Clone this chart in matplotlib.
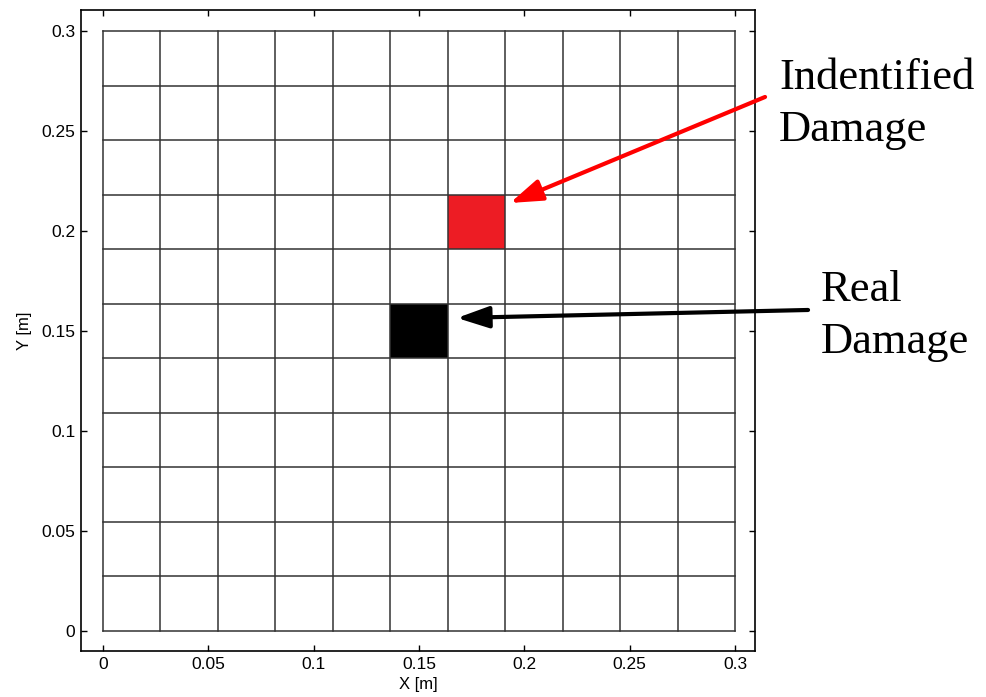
import matplotlib.pyplot as plt
from matplotlib.patches import Rectangle
import numpy as np

# plate and mesh
plate_size = 0.3
n_elements = 11
# damaged element indices (column, row), counted from bottom-left
real_damage = [(5, 5)]
identified_damage = [(6, 7)]

ticks = [0, 0.05, 0.1, 0.15, 0.2, 0.25, 0.3]
tick_labels = ['0', '0.05', '0.1', '0.15', '0.2', '0.25', '0.3']

fig = plt.figure(figsize=(9.87, 6.97), dpi=100)
ax = fig.add_axes([0.0821, 0.066, 0.683, 0.9197])

h = plate_size / n_elements

#fill damaged elements
for (i, j) in identified_damage:
    ax.add_patch(Rectangle((i * h, j * h), h, h, facecolor='#ED1C24', edgecolor='none', zorder=1))
for (i, j) in real_damage:
    ax.add_patch(Rectangle((i * h, j * h), h, h, facecolor='black', edgecolor='none', zorder=1))

#draw mesh lines
edges = np.linspace(0, plate_size, n_elements + 1)
for e in edges:
    ax.plot([e, e], [0, plate_size], color='#333333', lw=1.1, zorder=2)
    ax.plot([0, plate_size], [e, e], color='#333333', lw=1.1, zorder=2)

ax.set_xlim(-0.0104, 0.3095)
ax.set_ylim(-0.01, 0.3105)
ax.set_xticks(ticks)
ax.set_xticklabels(tick_labels)
ax.set_yticks(ticks)
ax.set_yticklabels(tick_labels)
ax.tick_params(direction='in', length=4, width=1, top=True, right=True,
               labelsize=12.5, pad=4)
for lab in ax.get_xticklabels() + ax.get_yticklabels():
    lab.set_family('Liberation Sans')
for s in ax.spines.values():
    s.set_linewidth(1.2)

ax.set_xlabel('X [m]', family='Liberation Sans', fontsize=12, labelpad=4)
ax.set_ylabel('Y [m]', family='Liberation Sans', fontsize=12, labelpad=7)

#arrows and labels
arrow_style = '-|>,head_length=0.65,head_width=0.22'
ax.annotate('', xy=(0.1932, 0.214), xytext=(0.3142, 0.267),
            arrowprops=dict(arrowstyle=arrow_style, color='red', lw=3, mutation_scale=30,
                            shrinkA=0, shrinkB=0),
            annotation_clip=False)
ax.annotate('', xy=(0.168, 0.1565), xytext=(0.3346, 0.1605),
            arrowprops=dict(arrowstyle=arrow_style, color='black', lw=3, mutation_scale=30,
                            shrinkA=0, shrinkB=0),
            annotation_clip=False)

fig.text(779 / 987, 1 - 58 / 697, 'Indentified\nDamage', family='Liberation Serif',
         fontsize=32, va='top', ha='left', linespacing=1.4)
fig.text(821 / 987, 1 - 270 / 697, 'Real\nDamage', family='Liberation Serif',
         fontsize=32, va='top', ha='left', linespacing=1.4)

plt.savefig('out.png', dpi=100)
